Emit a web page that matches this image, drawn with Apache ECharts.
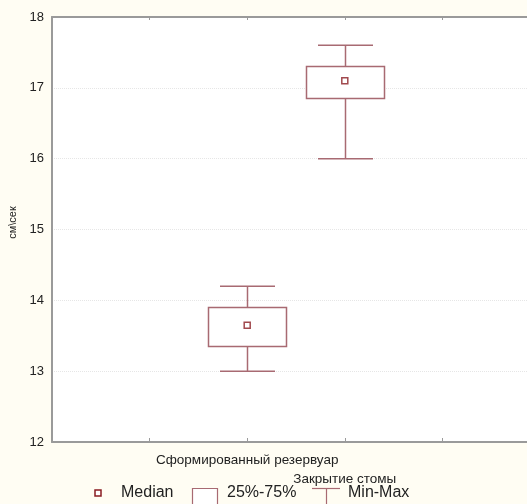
<!DOCTYPE html>
<html><head><meta charset="utf-8">
<script src="https://cdn.jsdelivr.net/npm/echarts@6/dist/echarts.min.js"></script>
<style>html,body{margin:0;padding:0;background:#fffdf3;}#c{width:527px;height:504px;}</style>
</head><body><div id="c"></div>
<script>
const categories = ['Сформированный резервуар', 'Закрытие стомы'];
const catPositions = [2, 3];
const minVals = [13.0, 16.0];
const q1Vals = [13.35, 16.85];
const medianVals = [13.65, 17.1];
const q3Vals = [13.9, 17.3];
const maxVals = [14.2, 17.6];
const yTicks = [12, 13, 14, 15, 16, 17, 18];
const yName = 'см\\сек';
const legendNames = ['Median', '25%-75%', 'Min-Max'];

const boxColor = '#a86a72';
const medColor = '#8a1c22';
const font = 'Liberation Sans, Arial, sans-serif';

const boxData = catPositions.map((p, i) => [p, minVals[i], q1Vals[i], medianVals[i], q3Vals[i], maxVals[i]]);
const medData = catPositions.map((p, i) => [p, medianVals[i]]);

function renderBox(params, api) {
  const x = api.value(0);
  const pMin = api.coord([x, api.value(1)]);
  const pQ1 = api.coord([x, api.value(2)]);
  const pQ3 = api.coord([x, api.value(4)]);
  const pMax = api.coord([x, api.value(5)]);
  const bw = 78, cw = 55;
  const cx = Math.round(pMin[0]) + 0.5;
  const st = { stroke: boxColor, lineWidth: 1.5, fill: null };
  return {
    type: 'group',
    children: [
      { type: 'rect', shape: { x: cx - bw / 2, y: pQ3[1], width: bw, height: pQ1[1] - pQ3[1] }, style: { stroke: boxColor, lineWidth: 1.5, fill: '#fff' } },
      { type: 'line', shape: { x1: cx, y1: pMax[1], x2: cx, y2: pQ3[1] }, style: st },
      { type: 'line', shape: { x1: cx, y1: pQ1[1], x2: cx, y2: pMin[1] }, style: st },
      { type: 'line', shape: { x1: cx - cw / 2, y1: pMax[1], x2: cx + cw / 2, y2: pMax[1] }, style: st },
      { type: 'line', shape: { x1: cx - cw / 2, y1: pMin[1], x2: cx + cw / 2, y2: pMin[1] }, style: st }
    ]
  };
}

const chart = echarts.init(document.getElementById('c'), null, { renderer: 'canvas' });
chart.setOption({
  backgroundColor: '#fffdf3',
  animation: false,
  textStyle: { fontFamily: font },
  grid: { left: 52, top: 17, right: -13, bottom: 62, show: true, backgroundColor: '#ffffff', borderWidth: 0, containLabel: false, outerBoundsMode: 'none' },
  xAxis: [{
    type: 'value', min: 0, max: 5, interval: 1, position: 'bottom',
    axisLine: { show: true, onZero: false, lineStyle: { color: '#9a9a9a', width: 2 } },
    axisTick: { show: true, inside: true, length: 4, lineStyle: { color: '#9a9a9a' } },
    splitLine: { show: false },
    axisLabel: {
      margin: 9, fontSize: 13.5, color: '#222', lineHeight: 19, fontFamily: font,
      formatter: function (v) {
        const i = catPositions.indexOf(v);
        if (i < 0) return '';
        return i === 1 ? '\n' + categories[i] : categories[i];
      }
    }
  }, {
    type: 'value', min: 0, max: 5, interval: 1, position: 'top',
    axisLine: { show: true, onZero: false, lineStyle: { color: '#9a9a9a', width: 2 } },
    axisTick: { show: true, inside: true, length: 3, lineStyle: { color: '#9a9a9a' } },
    splitLine: { show: false },
    axisLabel: { show: false }
  }],
  yAxis: {
    type: 'value', min: yTicks[0], max: yTicks[yTicks.length - 1], interval: 1,
    name: yName, nameLocation: 'middle', nameRotate: 90, nameGap: 29,
    nameTextStyle: { fontSize: 11, color: '#222', fontFamily: font, padding: [0, 0, 0, 14] },
    axisLine: { show: true, lineStyle: { color: '#9a9a9a', width: 2 } },
    axisTick: { show: false },
    axisLabel: { fontSize: 13, color: '#222', margin: 8, fontFamily: font },
    splitLine: { show: true, lineStyle: { color: '#e6e6e6', type: 'dotted', width: 1 } }
  },
  series: [{
    name: legendNames[1], type: 'custom', renderItem: renderBox, data: boxData,
    encode: { x: 0, y: [1, 2, 3, 4, 5] }, z: 2
  }, {
    name: legendNames[0], type: 'scatter', data: medData, symbol: 'rect', symbolSize: 6,
    itemStyle: { color: '#ffffff', borderColor: medColor, borderWidth: 1.5 }, z: 3
  }],
  graphic: [
    { type: 'rect', shape: { x: 95, y: 490, width: 6, height: 6 }, style: { fill: '#fff', stroke: medColor, lineWidth: 1.5 } },
    { type: 'text', left: 121, top: 485, style: { text: legendNames[0], font: '16px ' + font, fill: '#222' } },
    { type: 'rect', shape: { x: 192.5, y: 488.5, width: 25, height: 20 }, style: { fill: '#fff', stroke: boxColor, lineWidth: 1.2 } },
    { type: 'text', left: 227, top: 485, style: { text: legendNames[1], font: '16px ' + font, fill: '#222' } },
    { type: 'line', shape: { x1: 312, y1: 488.5, x2: 340, y2: 488.5 }, style: { stroke: boxColor, lineWidth: 1.2 } },
    { type: 'line', shape: { x1: 326.5, y1: 488.5, x2: 326.5, y2: 504 }, style: { stroke: boxColor, lineWidth: 1.2 } },
    { type: 'text', left: 348, top: 485, style: { text: legendNames[2], font: '16px ' + font, fill: '#222' } }
  ]
});
</script>
</body></html>
